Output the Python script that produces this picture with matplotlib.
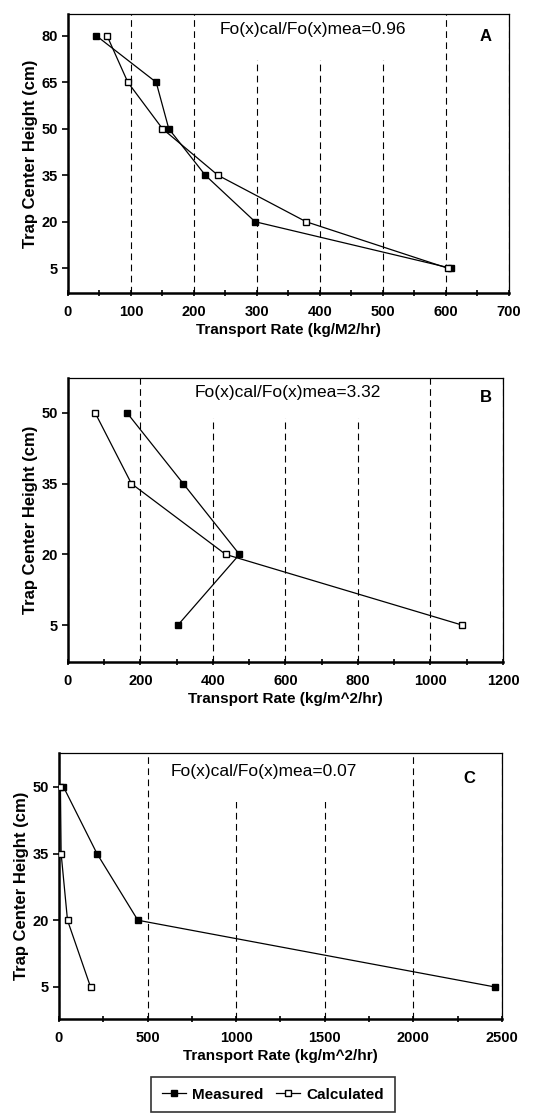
import matplotlib
matplotlib.use("Agg")
import matplotlib.pyplot as plt
from matplotlib.patches import Rectangle
from matplotlib.ticker import MultipleLocator

plt.rcParams['font.family'] = ['Liberation Sans', 'DejaVu Sans']

# panel A
a_height = [80, 65, 50, 35, 20, 5]
a_meas = [45, 140, 160, 218, 297, 608]
a_calc = [62, 95, 150, 238, 378, 603]

# panel B
b_height = [50, 35, 20, 5]
b_meas = [163, 318, 473, 303]
b_calc = [75, 175, 435, 1088]

# panel C
c_height = [50, 35, 20, 5]
c_meas = [25, 214, 445, 2460]
c_calc = [8, 12, 48, 178]

y_ticks_a = [5, 20, 35, 50, 65, 80]
y_ticks_bc = [5, 20, 35, 50]

panels = [
    dict(h=a_height, m=a_meas, c=a_calc, rect=[0.1225, 0.7372, 0.7945, 0.2502],
         xmax=700, xstep=100, ylim=(-3, 87), yt=y_ticks_a,
         xlabel="Transport Rate (kg/M2/hr)", ratio="Fo(x)cal/Fo(x)mea=0.96",
         ratio_xy=(0.555, 0.945), mask=(0.33, 0.835, 0.45), tag="A", tag_xy=(0.947, 0.92)),
    dict(h=b_height, m=b_meas, c=b_calc, rect=[0.1225, 0.4063, 0.7838, 0.2547],
         xmax=1200, xstep=200, ylim=(-2.8, 57.4), yt=y_ticks_bc,
         xlabel="Transport Rate (kg/m^2/hr)", ratio="Fo(x)cal/Fo(x)mea=3.32",
         ratio_xy=(0.505, 0.95), mask=(0.28, 0.859, 0.47), tag="B", tag_xy=(0.96, 0.93)),
    dict(h=c_height, m=c_meas, c=c_calc, rect=[0.1063, 0.0861, 0.7982, 0.2386],
         xmax=2500, xstep=500, ylim=(-2.2, 57.6), yt=y_ticks_bc,
         xlabel="Transport Rate (kg/m^2/hr)", ratio="Fo(x)cal/Fo(x)mea=0.07",
         ratio_xy=(0.463, 0.93), mask=(0.25, 0.816, 0.53), tag="C", tag_xy=(0.927, 0.905)),
]

fig = plt.figure(figsize=(5.55, 11.15), dpi=100)

for p in panels:
    ax = fig.add_axes(p["rect"])
    ml, = ax.plot(p["m"], p["h"], color="black", lw=0.9, marker="s", ms=4.5,
                  mfc="black", mec="black", label="Measured", zorder=4)
    cl, = ax.plot(p["c"], p["h"], color="black", lw=0.9, marker="s", ms=4.5,
                  mfc="white", mec="black", label="Calculated", zorder=4)
    ax.set_xlim(0, p["xmax"])
    ax.set_ylim(*p["ylim"])
    ax.xaxis.set_major_locator(MultipleLocator(p["xstep"]))
    ax.xaxis.set_minor_locator(MultipleLocator(p["xstep"] / 2))
    ax.set_yticks(p["yt"])
    ax.xaxis.grid(True, which="major", linestyle=(0, (6, 4)), color="black", lw=0.8)
    ax.set_axisbelow(True)
    for s in ["left", "bottom"]:
        ax.spines[s].set_linewidth(1.8)
    for s in ["top", "right"]:
        ax.spines[s].set_linewidth(0.9)
    ax.tick_params(axis="x", which="both", direction="inout", length=5, width=1.2, pad=6)
    ax.tick_params(axis="y", direction="out", length=4, width=1.2)
    for lab in ax.get_xticklabels() + ax.get_yticklabels():
        lab.set_fontweight("bold")
        lab.set_fontsize(10.5)
    ax.set_xlabel(p["xlabel"], fontsize=11, fontweight="bold", labelpad=3)
    ax.set_ylabel("Trap Center Height (cm)", fontsize=12, fontweight="bold", labelpad=2)
    # white block behind the ratio text hides the tops of the grid lines
    mx, my, mw = p["mask"]
    ax.add_patch(Rectangle((mx, my), mw, 1 - my, transform=ax.transAxes,
                           facecolor="white", edgecolor="none", zorder=1.5))
    ax.text(*p["ratio_xy"], p["ratio"], transform=ax.transAxes, ha="center", va="center",
            fontsize=12.5, zorder=3)
    ax.text(*p["tag_xy"], p["tag"], transform=ax.transAxes, ha="center", va="center",
            fontsize=12, fontweight="bold", zorder=3)

leg = fig.legend(handles=[ml, cl], loc="upper center", bbox_to_anchor=(0.492, 0.0341),
                 borderaxespad=0, ncol=2, frameon=True, fancybox=False, edgecolor="black",
                 prop=dict(size=11, weight="bold"), handlelength=1.6, columnspacing=0.8,
                 handletextpad=0.4, borderpad=0.7)
leg.get_frame().set_linewidth(1.2)

fig.savefig("out.png", dpi=100)
